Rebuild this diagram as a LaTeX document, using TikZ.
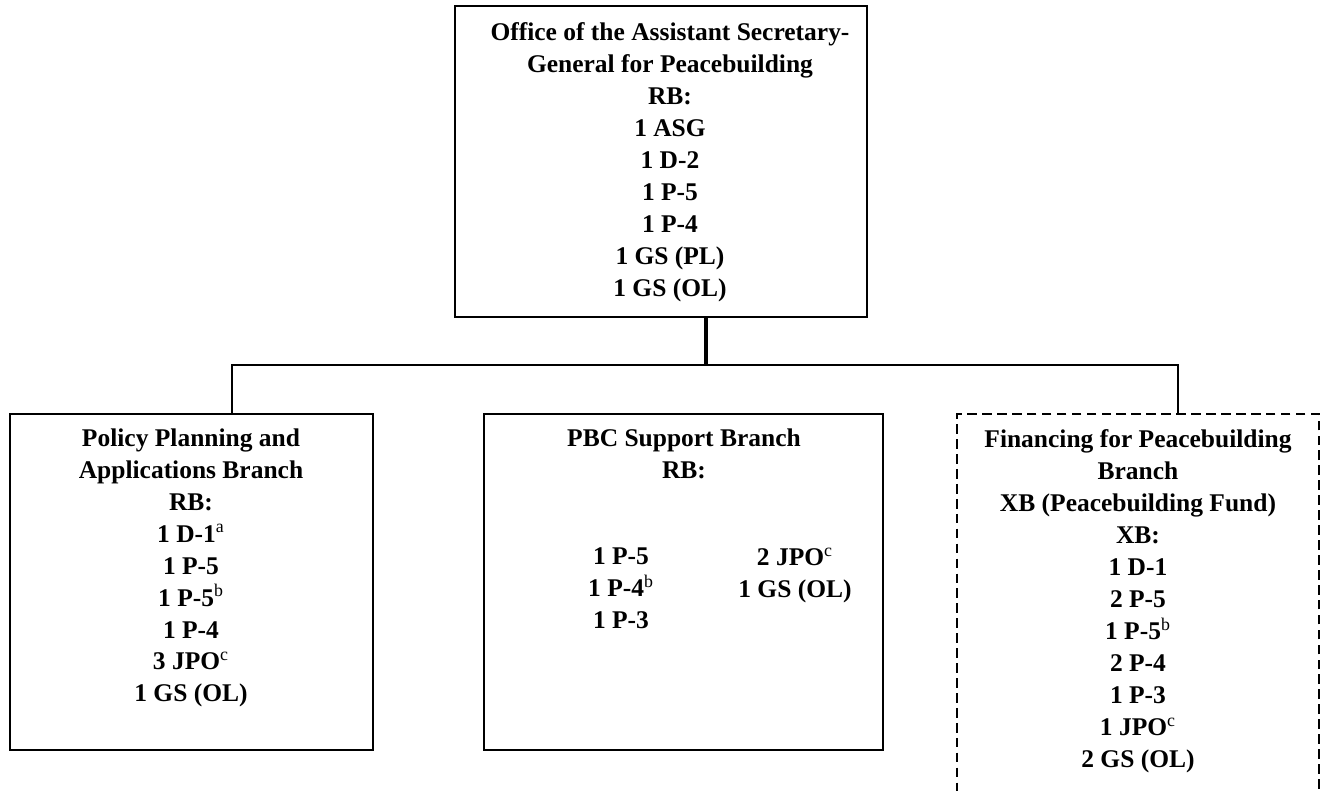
\documentclass[tikz,border=0pt]{standalone}
\usepackage{fontspec}
\setmainfont{Liberation Serif}
\newcommand{\fnm}[1]{\textsuperscript{\mdseries #1}}

\begin{document}
\begin{tikzpicture}[x=0.02cm, y=-0.02cm, line width=1.1pt,
  unit/.style={draw, rectangle, inner sep=0pt},
  planned/.style={unit, dash pattern=on 5.5pt off 3pt},
  txt/.style={anchor=north, align=center, inner sep=0pt,
    font=\fontsize{14.5}{18.2}\selectfont\bfseries}]
  \useasboundingbox (0,0) rectangle (1320,791);
  \node[unit, minimum width=8.24cm, minimum height=6.22cm] (asg) at (661,161.5) {};
  \node[unit, minimum width=7.26cm, minimum height=6.72cm] (ppab) at (191.5,582) {};
  \node[unit, minimum width=7.98cm, minimum height=6.72cm] (pbc) at (683.5,582) {};
  \node[planned, minimum width=7.24cm, minimum height=8.32cm] (fpb) at (1138,622) {};
  \node[txt] (asgtxt) at (670,22) {Office of the Assistant Secretary-\\General for Peacebuilding\\RB:\\1 ASG\\1 D-2\\1 P-5\\1 P-4\\1 GS (PL)\\1 GS (OL)};
  \node[txt] (ppabtxt) at (191,427.5) {Policy Planning and\\Applications Branch\\RB:\\1 D-1\fnm{a}\\1 P-5\\1 P-5\fnm{b}\\1 P-4\\3 JPO\fnm{c}\\1 GS (OL)};
  \node[txt] (pbctxt) at (684,427.5) {PBC Support Branch\\RB:};
  \node[txt] (pbcl) at (621,547) {1 P-5\\1 P-4\fnm{b}\\1 P-3};
  \node[txt] (pbcr) at (795,547) {2 JPO\fnm{c}\\1 GS (OL)};
  \node[txt] (fpbtxt) at (1138,428.5) {Financing for Peacebuilding\\Branch\\XB (Peacebuilding Fund)\\XB:\\1 D-1\\2 P-5\\1 P-5\fnm{b}\\2 P-4\\1 P-3\\1 JPO\fnm{c}\\2 GS (OL)};
  \coordinate (hub) at (706,365);
  \coordinate (jl) at (232,365);
  \coordinate (jr) at (1178,365);
  \draw[line width=2.2pt] (asg.south -| hub) -- (hub);
  \draw (jl |- ppab.north) -- (jl) -- (jr) -- (jr |- fpb.north);
\end{tikzpicture}
\end{document}
